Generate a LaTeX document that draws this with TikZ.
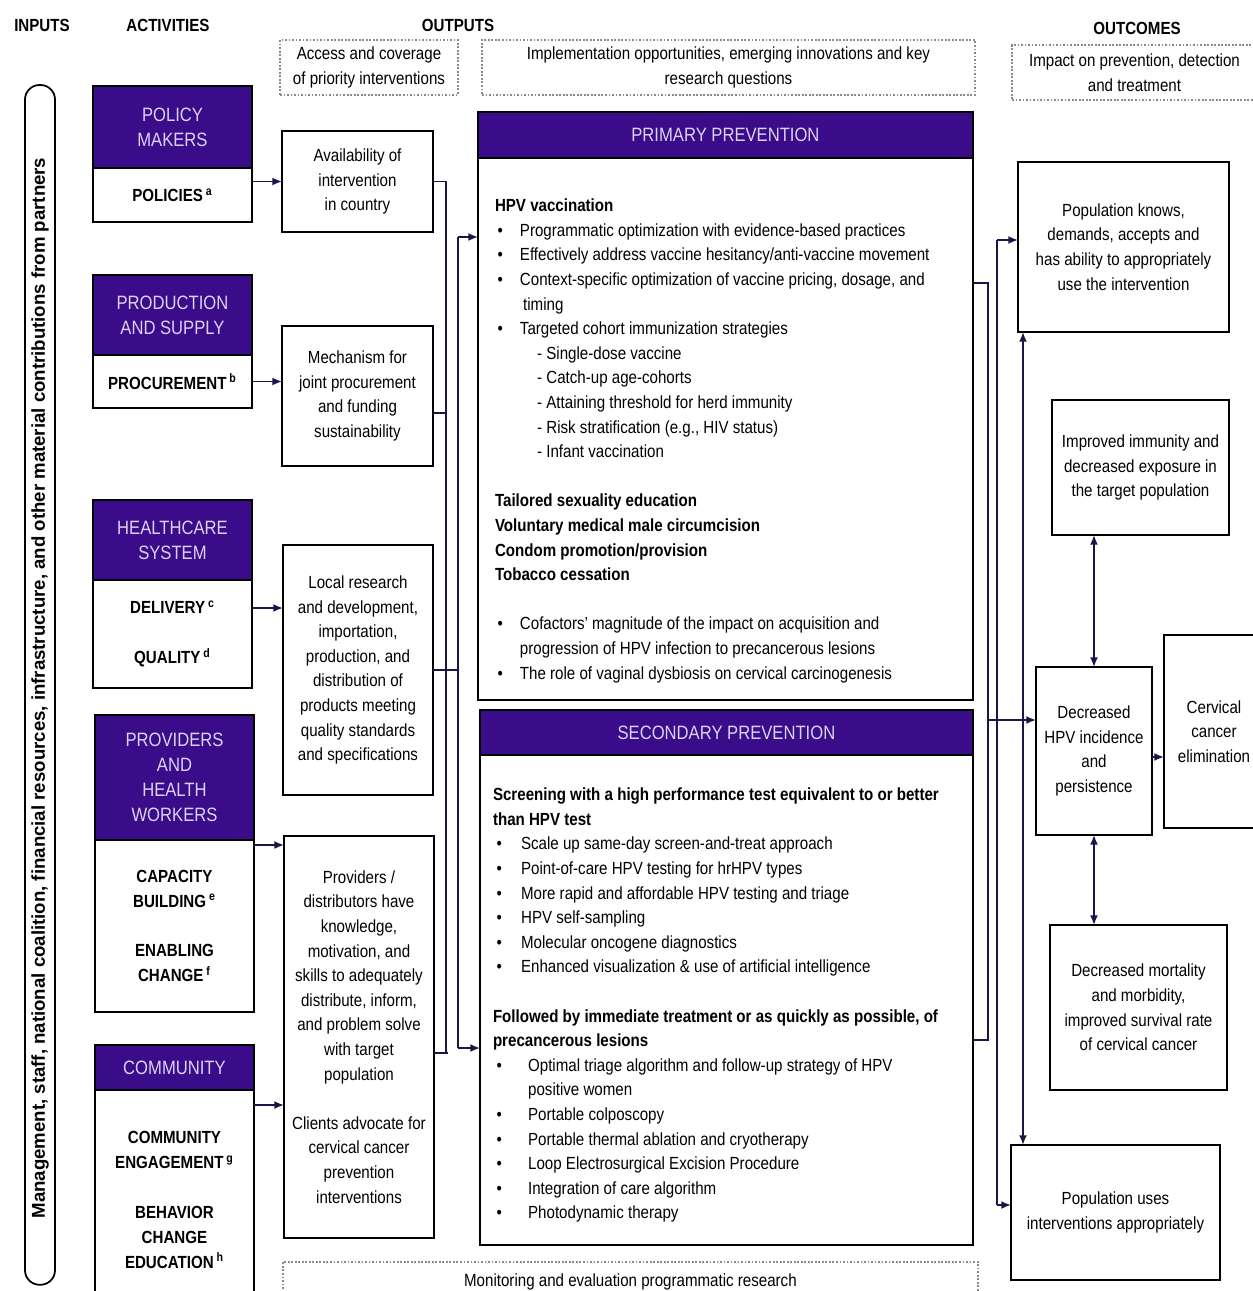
\documentclass[tikz,border=0pt]{standalone}
\usepackage{fontspec}
\setmainfont{Liberation Sans}[FakeStretch=0.86]
\newfontfamily\barfont{Liberation Sans}
\usetikzlibrary{arrows.meta}
\definecolor{purp}{HTML}{3A0C8A}
\definecolor{lav}{HTML}{DCD2F4}
\definecolor{linec}{HTML}{1E1446}
\definecolor{dotc}{HTML}{8A8A8A}
\newcommand{\blt}{\makebox[14.2pt][l]{\hspace{1.5pt}\textbullet}}
\newcommand{\bltw}{\makebox[20pt][l]{\hspace{2pt}\textbullet}}
\newcommand{\bltn}{\makebox[16pt][l]{\hspace{2pt}\textbullet}}
\newcommand{\dsh}{\hspace*{24pt}- }
\begin{document}
\begin{tikzpicture}[x=0.02cm,y=-0.02cm,inner sep=0pt,outer sep=0pt,
font=\fontsize{10}{14}\selectfont,
purphead/.style={draw=black,line width=0.8pt,fill=purp,text=lav,font=\fontsize{11}{14.2}\selectfont,align=center,anchor=north west},
actbox/.style={draw,line width=1pt,fill=white,font=\fontsize{10}{14.2}\selectfont\bfseries,align=center,anchor=north west},
outbox/.style={draw,line width=0.9pt,align=center,anchor=north west},
dotbox/.style={draw=dotc,densely dotted,line width=1pt,align=center,anchor=north west},
collabel/.style={font=\fontsize{10}{12}\selectfont\bfseries},
line/.style={draw=linec,line width=0.9pt},
conn/.style={line,-{Latex[length=5.5pt,width=4.5pt]}},
dconn/.style={line,{Latex[length=5.5pt,width=4.5pt]}-{Latex[length=5.5pt,width=4.5pt]}}]

\useasboundingbox (0,0) rectangle (1253,1291);

%%% Column titles and dotted headers %%%%%
\node[collabel] (tin) at (42,25) {INPUTS};
\node[collabel] (tact) at (168,25) {ACTIVITIES};
\node[collabel] (tout) at (458,25) {OUTPUTS};
\node[collabel] (toc) at (1137,28) {OUTCOMES};
\node[dotbox,minimum width=3.56cm,minimum height=1.1cm] (acc) at (280,40) {Access and coverage\\of priority interventions};
\node[dotbox,minimum width=9.86cm,minimum height=1.1cm] (impl) at (482,40) {Implementation opportunities, emerging innovations and key\\research questions};
\node[dotbox,minimum width=4.9cm,minimum height=1.1cm] (imp) at (1012,45) {Impact on prevention, detection\\and treatment};
\node[dotbox,minimum width=13.9cm,minimum height=0.8cm] (mon) at (283,1262) {Monitoring and evaluation programmatic research};

%%% Inputs bar
\node[draw,line width=1pt,rounded corners=0.29cm,minimum width=0.6cm,minimum height=24cm,anchor=north west] (bar) at (25,85) {};
\node[rotate=90,font=\barfont\fontsize{10.6}{13}\selectfont\bfseries] (bartxt) at (40,688) {Management, staff, national coalition, financial resources, infrastructure, and other material contributions from partners};

%%% Activities %%%%%
\node[purphead,minimum width=3.18cm,minimum height=1.64cm] (polh) at (93,86) {POLICY\\MAKERS};
\node[actbox,minimum width=3.18cm,minimum height=1.08cm] (polb) at (93,168) {POLICIES\,\textsuperscript{a}};
\node[purphead,minimum width=3.18cm,minimum height=1.6cm] (prodh) at (93,275) {PRODUCTION\\AND SUPPLY};
\node[actbox,minimum width=3.18cm,minimum height=1.06cm] (prodb) at (93,355) {PROCUREMENT\,\textsuperscript{b}};
\node[purphead,minimum width=3.18cm,minimum height=1.6cm] (hch) at (93,500) {HEALTHCARE\\SYSTEM};
\node[actbox,minimum width=3.18cm,minimum height=2.16cm] (hcb) at (93,580) {DELIVERY\,\textsuperscript{c}\\[14pt]QUALITY\,\textsuperscript{d}};
\node[purphead,minimum width=3.18cm,minimum height=2.5cm] (provh) at (95,715) {PROVIDERS\\AND\\HEALTH\\WORKERS};
\node[actbox,minimum width=3.18cm,minimum height=3.44cm] (provb) at (95,840) {CAPACITY\\BUILDING\,\textsuperscript{e}\\[14pt]ENABLING\\CHANGE\,\textsuperscript{f}};
\node[purphead,minimum width=3.18cm,minimum height=0.9cm] (comh) at (95,1045) {COMMUNITY};
\node[actbox,minimum width=3.18cm,minimum height=4.4cm] (comb) at (95,1090) {COMMUNITY\\ENGAGEMENT\,\textsuperscript{g}\\[14pt]BEHAVIOR\\CHANGE\\EDUCATION\,\textsuperscript{h}};

%%% Outputs (access) %%%%%
\node[outbox,minimum width=3.02cm,minimum height=2.02cm] (avail) at (282,131) {Availability of\\intervention\\in country};
\node[outbox,minimum width=3.02cm,minimum height=2.8cm] (mech) at (282,326) {Mechanism for\\joint procurement\\and funding\\sustainability};
\node[outbox,minimum width=3.0cm,minimum height=5.0cm] (local) at (283,545) {Local research\\and development,\\importation,\\production, and\\distribution of\\products meeting\\quality standards\\and specifications};
\node[outbox,minimum width=3.0cm,minimum height=8.04cm] (provo) at (284,836) {Providers /\\distributors have\\knowledge,\\motivation, and\\skills to adequately\\distribute, inform,\\and problem solve\\with target\\population\\[14pt]Clients advocate for\\cervical cancer\\prevention\\interventions};

%%% Primary prevention %%%%%
\node[purphead,minimum width=9.9cm,minimum height=0.92cm] (primh) at (478,112) {PRIMARY PREVENTION};
\node[outbox,minimum width=9.9cm,minimum height=10.84cm] (primb) at (478,158) {};
\node[anchor=north west,align=left] (primt) at (495,199) {\textbf{HPV vaccination}\\
\blt Programmatic optimization with evidence-based practices\\
\blt Effectively address vaccine hesitancy/anti-vaccine movement\\
\blt Context-specific optimization of vaccine pricing, dosage, and\\
\hspace*{16pt}timing\\
\blt Targeted cohort immunization strategies\\
\dsh Single-dose vaccine\\
\dsh Catch-up age-cohorts\\
\dsh Attaining threshold for herd immunity\\
\dsh Risk stratification (e.g., HIV status)\\
\dsh Infant vaccination\\[14pt]
\textbf{Tailored sexuality education}\\
\textbf{Voluntary medical male circumcision}\\
\textbf{Condom promotion/provision}\\
\textbf{Tobacco cessation}\\[14pt]
\blt Cofactors' magnitude of the impact on acquisition and\\
\hspace*{14.2pt}progression of HPV infection to precancerous lesions\\
\blt The role of vaginal dysbiosis on cervical carcinogenesis};

%%% Secondary prevention %%%%%
\node[purphead,minimum width=9.86cm,minimum height=0.9cm] (sech) at (480,710) {SECONDARY PREVENTION};
\node[outbox,minimum width=9.86cm,minimum height=9.8cm] (secb) at (480,755) {};
\node[anchor=north west,align=left] (sect) at (493,788) {\textbf{Screening with a high performance test equivalent to or better}\\
\textbf{than HPV test}\\
\bltn Scale up same-day screen-and-treat approach\\
\bltn Point-of-care HPV testing for hrHPV types\\
\bltn More rapid and affordable HPV testing and triage\\
\bltn HPV self-sampling\\
\bltn Molecular oncogene diagnostics\\
\bltn Enhanced visualization \& use of artificial intelligence\\[14pt]
\textbf{Followed by immediate treatment or as quickly as possible, of}\\
\textbf{precancerous lesions}\\
\bltw Optimal triage algorithm and follow-up strategy of HPV\\
\hspace*{20pt}positive women\\
\bltw Portable colposcopy\\
\bltw Portable thermal ablation and cryotherapy\\
\bltw Loop Electrosurgical Excision Procedure\\
\bltw Integration of care algorithm\\
\bltw Photodynamic therapy};

%%% Outcomes %%%%%
\node[outbox,minimum width=4.22cm,minimum height=3.4cm] (knows) at (1018,162) {Population knows,\\demands, accepts and\\has ability to appropriately\\use the intervention};
\node[outbox,minimum width=3.54cm,minimum height=2.7cm] (immun) at (1052,400) {Improved immunity and\\decreased exposure in\\the target population};
\node[outbox,minimum width=2.32cm,minimum height=3.36cm] (incid) at (1036,667) {Decreased\\HPV incidence\\and\\persistence};
\node[outbox,minimum width=2.0cm,minimum height=3.86cm,text width=1.84cm] (elim) at (1164,635) {Cervical\\cancer\\elimination};
\node[outbox,minimum width=3.54cm,minimum height=3.3cm] (mort) at (1050,925) {Decreased mortality\\and morbidity,\\improved survival rate\\of cervical cancer};
\node[outbox,minimum width=4.18cm,minimum height=2.7cm] (uses) at (1011,1145) {Population uses\\interventions appropriately};

%%% Activities to outputs
\draw[conn] (polb.east |- avail.west) -- (avail.west);
\draw[conn] (prodb.east) -- (prodb.east -| mech.west);
	\coordinate (dlv) at ([yshift=0.52cm]hcb.east);
\draw[conn] (dlv) -- (dlv -| local.west);
	\coordinate (cap) at ([yshift=-0.1cm]provb.north east);
\draw[conn] (cap) -- (cap -| provo.west);
	\coordinate (cmm) at ([yshift=-0.3cm]comb.north east);
\draw[conn] (cmm) -- (cmm -| provo.west);

%%% Outputs bracket to prevention boxes
	\coordinate (bt) at (446,180);
	\coordinate (bb) at (446,1053);
\draw[line] (avail.east) -| (bb);
\draw[line] ([yshift=-0.34cm]mech.east) -- ++(13,0);
\draw[line] ([yshift=-0.32cm]provo.east) -- ++(14,0);
	\coordinate (ft) at (458,237);
	\coordinate (fb) at (458,1048);
\draw[line] (local.east) -- (local.east -| ft);
\draw[line] (ft) -- (fb);
\draw[conn] (ft) -- (ft -| primb.west);
\draw[conn] (fb) -- (fb -| secb.west);

%%% Prevention boxes to outcomes
	\coordinate (rt) at (988,283);
	\coordinate (rb) at (988,1040);
	\coordinate (rm) at (988,720);
\draw[line] (rt -| primb.east) -- (rt) -- (rb) -- (rb -| secb.east);
\draw[conn] (rm) -- (rm -| incid.west);
	\coordinate (lt) at (997,240);
	\coordinate (lb) at (997,1205);
\draw[line] (lt) -- (lb);
\draw[conn] (lt) -- (lt -| knows.west);
\draw[conn] (lb) -- (lb -| uses.west);
	\coordinate (vx) at (1023,0);
\draw[dconn,line width=1.3pt] (knows.south -| vx) -- (uses.north -| vx);

%%% Between outcomes
\draw[dconn] (immun.south -| incid.north) -- (incid.north);
\draw[dconn] (incid.south) -- (incid.south |- mort.north);
\draw[conn] ([yshift=-0.12cm]incid.east) -- ([yshift=-0.12cm]incid.east -| elim.west);

\end{tikzpicture}
\end{document}
